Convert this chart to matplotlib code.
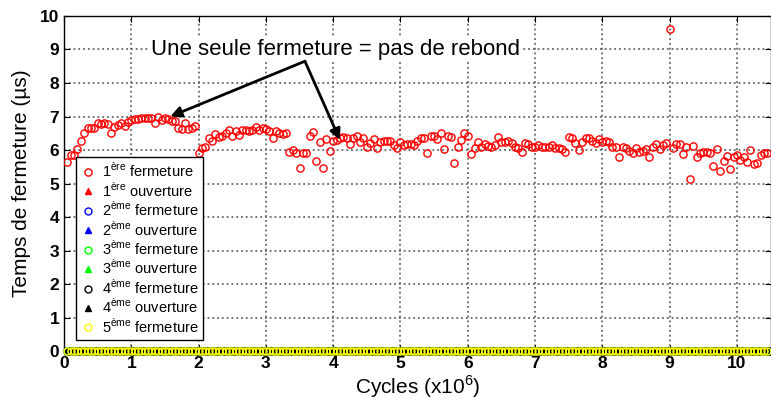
import numpy as np
import matplotlib
matplotlib.use('Agg')
import matplotlib.pyplot as plt

plt.rcParams['font.family'] = ['Liberation Sans', 'DejaVu Sans']
plt.rcParams['mathtext.fontset'] = 'custom'
plt.rcParams['mathtext.rm'] = 'Liberation Sans'

# closing time of the first closure, one sample every 0.05 x10^6 cycles
step = 0.05
first_close = [
    5.63, 5.85, 5.85, 6.02, 6.28, 6.50, 6.65, 6.65, 6.65, 6.82,
    6.78, 6.82, 6.78, 6.52, 6.69, 6.75, 6.80, 6.73, 6.85, 6.90,
    6.93, 6.93, 6.95, 6.95, 6.95, 6.97, 6.82, 6.98, 6.90, 6.97,
    6.92, 6.88, 6.88, 6.65, 6.63, 6.82, 6.63, 6.67, 6.72,
    5.90, 6.07, 6.10, 6.35, 6.28, 6.47, 6.40, 6.43, 6.50, 6.60,
    6.43, 6.57, 6.45, 6.60, 6.60, 6.57, 6.60, 6.68, 6.60, 6.65,
    6.63, 6.57, 6.37, 6.57, 6.50, 6.47, 6.50,
    5.95, 6.00, 5.90, 5.47, 5.90, 5.90, 6.43, 6.55, 5.67, 6.23,
    5.47, 6.33, 5.98, 6.28, 6.30, 6.35, 6.40,
    6.35, 6.17, 6.37, 6.43, 6.25, 6.35, 6.10, 6.22, 6.33, 6.07,
    6.23, 6.28, 6.28, 6.28, 6.15, 6.07, 6.25, 6.15, 6.17, 6.18,
    6.15, 6.28, 6.37, 6.37, 5.92, 6.42, 6.42, 6.32, 6.52, 6.03,
    6.42, 6.40, 5.60, 6.10, 6.30,
    6.50, 6.42, 5.88, 6.07, 6.25, 6.10, 6.17, 6.12, 6.08, 6.15,
    6.40, 6.25, 6.23, 6.27, 6.20, 6.10, 6.05, 5.93, 6.20, 6.18,
    6.08, 6.08, 6.15, 6.08, 6.08, 6.10, 6.15, 6.05, 6.07, 6.03,
    5.95, 6.40, 6.35, 6.22, 6.00, 6.23, 6.37, 6.37, 6.27, 6.20,
    6.33, 6.25, 6.27, 6.25, 6.08,
    6.10, 5.78, 6.08, 6.07, 5.97, 5.92, 6.05, 5.95, 5.98, 6.02,
    5.78, 6.10, 6.18, 6.03, 6.15, 6.20, 9.60, 6.07, 6.17, 6.17,
    5.87, 6.10, 5.12, 6.12, 5.78, 5.90, 5.93, 5.95, 5.90, 5.53,
    6.03, 5.38, 5.68, 5.83, 5.43, 5.80, 5.85, 5.70, 5.78, 5.63,
    6.00, 5.58, 5.60, 5.85, 5.92, 5.92,
]
cycles = step * np.arange(1, len(first_close) + 1)

# the other events never occur: their times stay at zero
zero_series = [
    ('1$^{\\mathrm{ère}}$ ouverture', '^', 'red'),
    ('2$^{\\mathrm{ème}}$ fermeture', 'o', 'blue'),
    ('2$^{\\mathrm{ème}}$ ouverture', '^', 'blue'),
    ('3$^{\\mathrm{ème}}$ fermeture', 'o', 'lime'),
    ('3$^{\\mathrm{ème}}$ ouverture', '^', 'lime'),
    ('4$^{\\mathrm{ème}}$ fermeture', 'o', 'black'),
    ('4$^{\\mathrm{ème}}$ ouverture', '^', 'black'),
    ('5$^{\\mathrm{ème}}$ fermeture', 'o', 'yellow'),
]
zeros = np.zeros(len(first_close))

fig = plt.figure(figsize=(7.71, 4.05), dpi=100)
ax = fig.add_axes([0.083, 0.1333, 0.9165, 0.8272])

ax.plot(cycles, first_close, 'o', mfc='none', mec='red', ms=5.2, mew=1.0,
        label='1$^{\\mathrm{ère}}$ fermeture', zorder=3)
for label, marker, color in zero_series:
    if marker == '^':
        ax.plot(cycles, zeros, marker, color=color, ms=5, ls='none',
                label=label, clip_on=False, zorder=3)
    else:
        shift = step / 2 if color == 'black' else 0
        ax.plot(cycles + shift, zeros, marker, mfc='none', mec=color, ms=5,
                mew=1.0, ls='none', label=label, clip_on=False, zorder=4)

ax.set_xlim(0, 10.5)
ax.set_ylim(0, 10)
ax.set_xticks(np.arange(0, 11))
ax.set_yticks(np.arange(0, 11))
ax.grid(True, color='0.4', ls=':', lw=1.3)
ax.tick_params(direction='in', length=4, labelsize=12.5, top=True, right=True)
for lab in ax.get_xticklabels() + ax.get_yticklabels():
    lab.set_fontweight('bold')
for sp in ax.spines.values():
    sp.set_linewidth(1.0)

ax.set_xlabel('Cycles (x10$^{6}$)', fontsize=15, labelpad=2)
ax.set_ylabel('Temps de fermeture (µs)', fontsize=15, labelpad=6)

# note: single closure means no bounce
ax.text(4.03, 9.0, 'Une seule fermeture = pas de rebond', fontsize=16,
        ha='center', va='center', bbox=dict(fc='white', ec='none', pad=1))
for end in [(1.58, 7.0), (4.1, 6.3)]:
    ax.annotate('', xy=end, xytext=(3.58, 8.65),
                arrowprops=dict(arrowstyle='-|>', lw=2, color='black',
                                mutation_scale=16, shrinkA=0, shrinkB=0))

leg = ax.legend(loc='lower left', bbox_to_anchor=(0.017, 0.033), fontsize=10.5,
                frameon=True, fancybox=False, edgecolor='black',
                framealpha=1, borderpad=0.3, labelspacing=0.06,
                handlelength=1.0, handletextpad=0.45, borderaxespad=0)
leg.get_frame().set_linewidth(1.0)
leg.set_zorder(5)

fig.savefig('out.png', dpi=100)
